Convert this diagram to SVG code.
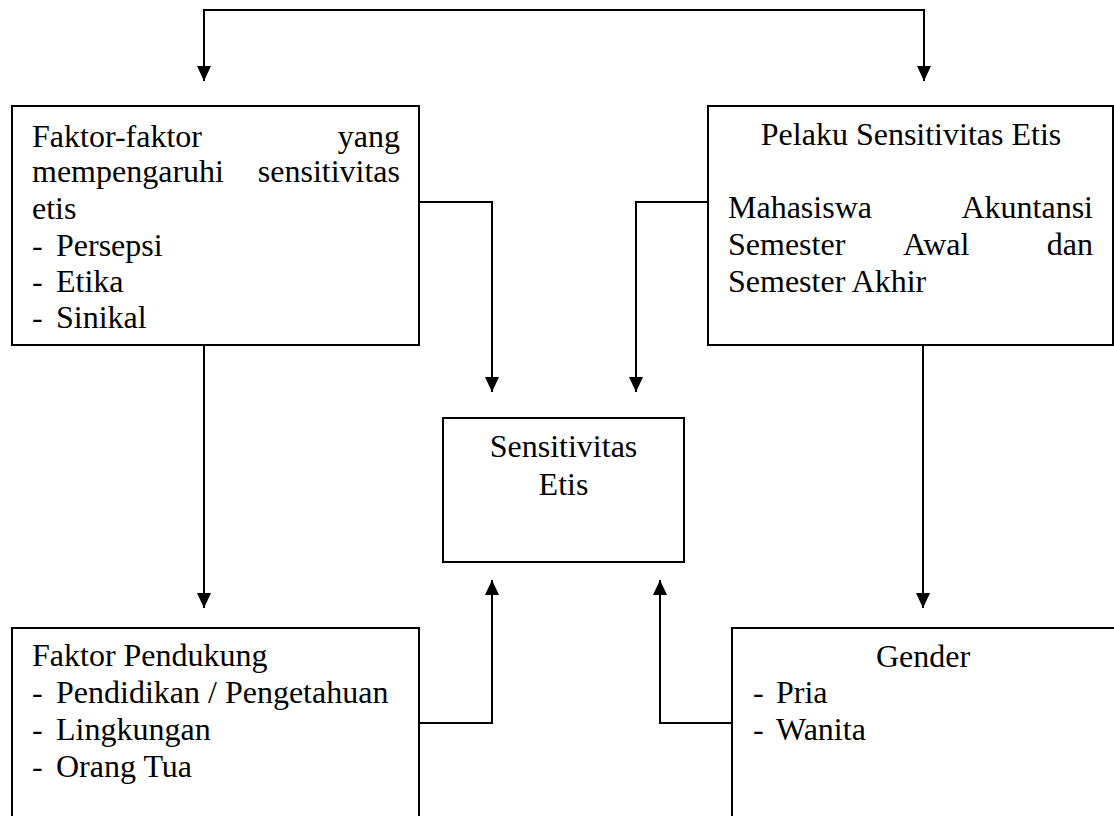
<svg xmlns="http://www.w3.org/2000/svg" width="1114" height="816" viewBox="0 0 1114 816">
<defs>
<style>
.box{fill:none;stroke:#000;stroke-width:2}
.ln{fill:none;stroke:#000;stroke-width:2}
text{font-family:"Liberation Serif","Times New Roman",serif;font-size:32px;fill:#000}
.m{text-anchor:middle}
.e{text-anchor:end}
</style>
<marker id="ah" viewBox="0 0 15 14" refX="15" refY="7" markerWidth="15" markerHeight="14" markerUnits="userSpaceOnUse" orient="auto-start-reverse">
<path d="M0,0 L15,7 L0,14 Z" fill="#000"/>
</marker>
</defs>
<rect width="1114" height="816" fill="#fff"/>
<g id="connectors">
<path class="ln" d="M204,81 V10 H924 V81" marker-start="url(#ah)" marker-end="url(#ah)"/>
<path class="ln" d="M419,202 H492 V392" marker-end="url(#ah)"/>
<path class="ln" d="M708,202 H636 V392" marker-end="url(#ah)"/>
<path class="ln" d="M204,345 V608" marker-end="url(#ah)"/>
<path class="ln" d="M923,345 V608" marker-end="url(#ah)"/>
<path class="ln" d="M419,723 H492 V580" marker-end="url(#ah)"/>
<path class="ln" d="M732,723 H660 V580" marker-end="url(#ah)"/>
</g>
<g id="faktor">
<rect class="box" x="12" y="106" width="407" height="239"/>
<text x="32" y="147">Faktor-faktor</text>
<text class="e" x="400" y="147">yang</text>
<text x="32" y="182">mempengaruhi</text>
<text class="e" x="400" y="182">sensitivitas</text>
<text x="32" y="219">etis</text>
<text x="32" y="256">-</text><text x="56" y="256">Persepsi</text>
<text x="32" y="292">-</text><text x="56" y="292">Etika</text>
<text x="32" y="328">-</text><text x="56" y="328">Sinikal</text>
</g>
<g id="pelaku">
<rect class="box" x="708" y="106" width="405" height="239"/>
<text class="m" x="911" y="145">Pelaku Sensitivitas Etis</text>
<text x="728" y="218">Mahasiswa</text>
<text class="e" x="1093" y="218">Akuntansi</text>
<text x="728" y="255">Semester</text>
<text x="903" y="255">Awal</text>
<text class="e" x="1093" y="255">dan</text>
<text x="728" y="292">Semester Akhir</text>
</g>
<g id="sensitivitas">
<rect class="box" x="443" y="418" width="241" height="144"/>
<text class="m" x="563.5" y="457">Sensitivitas</text>
<text class="m" x="563.5" y="495">Etis</text>
</g>
<g id="pendukung">
<rect class="box" x="12" y="628" width="407" height="220"/>
<text x="32" y="666">Faktor Pendukung</text>
<text x="32" y="703">-</text><text x="56" y="703">Pendidikan / Pengetahuan</text>
<text x="32" y="740">-</text><text x="56" y="740">Lingkungan</text>
<text x="32" y="777">-</text><text x="56" y="777">Orang Tua</text>
</g>
<g id="gender">
<rect class="box" x="732" y="628" width="420" height="220"/>
<text class="m" x="923" y="667">Gender</text>
<text x="753" y="703">-</text><text x="776" y="703">Pria</text>
<text x="753" y="740">-</text><text x="776" y="740">Wanita</text>
</g>
</svg>
